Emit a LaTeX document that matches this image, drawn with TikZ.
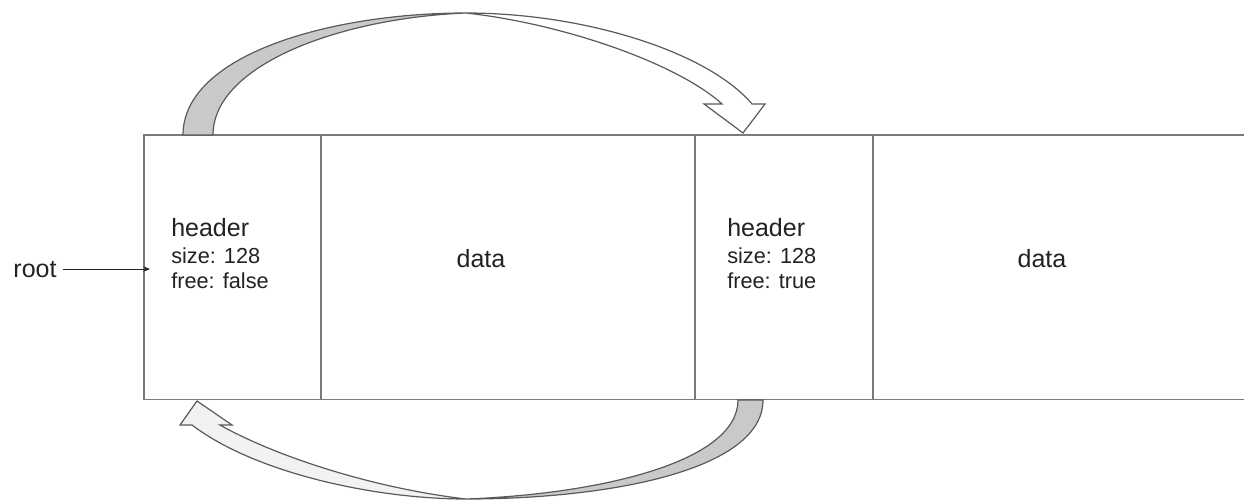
\documentclass[tikz,border=0pt]{standalone}
\usepackage{fontspec}
\setmainfont{Liberation Sans}
\usetikzlibrary{arrows.meta}

\definecolor{edge}{HTML}{7A7A7A}
\definecolor{ribbonline}{HTML}{5A5A5A}
\definecolor{ink}{HTML}{222222}
\definecolor{bandgrey}{HTML}{C9C9C9}
\definecolor{bandlight}{HTML}{F2F2F2}

\tikzset{
  cell/.style={inner sep=0pt, anchor=north west, minimum height={264*0.75pt}},
  boxline/.style={draw=edge, line width=1.2pt},
  ribbon/.style={draw=ribbonline, line width=0.9pt, line join=miter},
  bigtext/.style={inner sep=0pt, text=ink, font=\fontsize{18.75pt}{22pt}\selectfont},
  smalltext/.style={inner sep=0pt, text=ink, font=\fontsize{16.3pt}{19pt}\selectfont},
  rootarrow/.style={draw=ink, line width=0.8pt, -{Stealth[length=5pt,width=4pt]}}
}

\begin{document}
\begin{tikzpicture}[x=0.75pt, y=-0.75pt]
  \useasboundingbox (0,0) rectangle (1244,502);

  % memory cells: header | data | header | data (open to the right)
  \node[cell, minimum width={177*0.75pt}] (hdrA) at (144,135) {};
  \node[cell, minimum width={374*0.75pt}] (datA) at (321,135) {};
  \node[cell, minimum width={178*0.75pt}] (hdrB) at (695,135) {};
  \node[cell, minimum width={371*0.75pt}] (datB) at (873,135) {};

  \draw[boxline] (datB.north east) -- (hdrA.north west) -- (hdrA.south west) -- (datB.south east);
  \draw[boxline] (datA.north west) -- (datA.south west);
  \draw[boxline] (hdrB.north west) -- (hdrB.south west);
  \draw[boxline] (datB.north west) -- (datB.south west);

  % block contents
  \node[bigtext, anchor=base west] (hA1) at (171,236) {header};
  \node[smalltext, anchor=base west] (hA2) at (171,263) {size: 128};
  \node[smalltext, anchor=base west] (hA3) at (171,288) {free: false};
  \node[bigtext, anchor=base] (dA) at (481,267) {data};

  \node[bigtext, anchor=base west] (hB1) at (727,236) {header};
  \node[smalltext, anchor=base west] (hB2) at (727,263) {size: 128};
  \node[smalltext, anchor=base west] (hB3) at (727,288) {free: true};
  \node[bigtext, anchor=base] (dB) at (1042,267) {data};

  % root pointer
  \node[bigtext, anchor=base] (root) at (35,277) {root};
  \draw[rootarrow] ([xshift=4.5pt]root.east) -- ([xshift=4.5pt]root.east -| hdrA.west);

  % upper twisted arrow: first header -> second header
  \draw[ribbon, fill=bandgrey]
    (183,135) .. controls (183,55) and (330,13) .. (466,13)
              .. controls (340,18) and (213,65) .. (213,135) -- cycle;
  \draw[ribbon, fill=white]
    (466,13) .. controls (585,13) and (708,52) .. (752,104)
      -- (765,104) -- (743,133) -- (704,104) -- (722,104)
      .. controls (678,64) and (565,24) .. (466,13) -- cycle;

  % lower twisted arrow: second header -> first header
  \draw[ribbon, fill=bandgrey]
    (763,400) .. controls (763,470) and (610,499) .. (466,499)
              .. controls (600,494) and (738,462) .. (738,400) -- cycle;
  \draw[ribbon, fill=bandlight]
    (466,499) .. controls (375,499) and (255,473) .. (192,425)
      -- (180,425) -- (197,401) -- (232,425) -- (220,425)
      .. controls (275,456) and (372,488) .. (466,499) -- cycle;
\end{tikzpicture}
\end{document}
